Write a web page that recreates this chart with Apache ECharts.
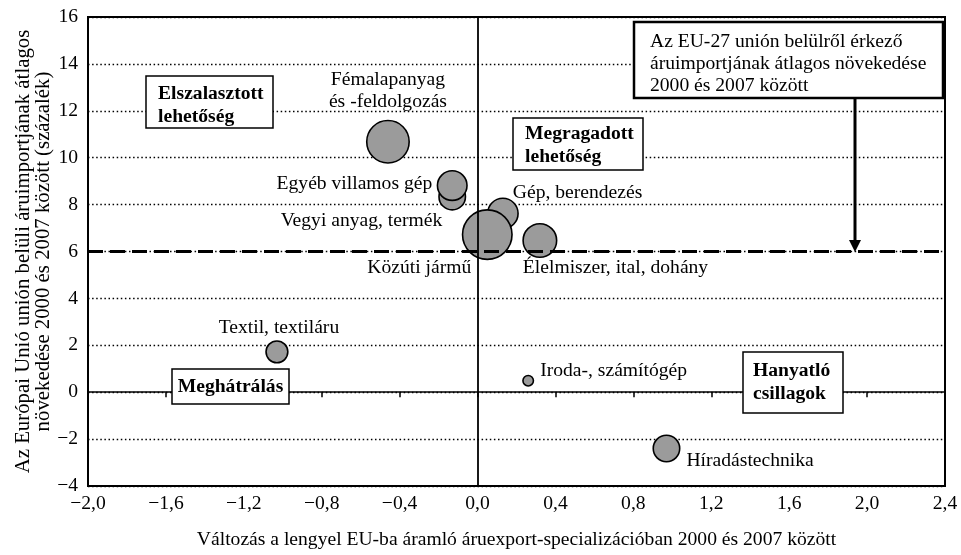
<!DOCTYPE html>
<html>
<head>
<meta charset="utf-8">
<script src="https://cdn.jsdelivr.net/npm/echarts@6/dist/echarts.min.js"></script>
<style>
  html, body { margin: 0; padding: 0; background: #fff; }
  #chart { width: 961px; height: 555px; }
</style>
</head>
<body>
<div id="chart"></div>
<script>
(function () {
  // ágazatok (a rajzolási sorrend számít: a későbbi kerül felülre)
  var sectors = [
    'Fémalapanyag\nés -feldolgozás',
    'Vegyi anyag, termék',
    'Egyéb villamos gép',
    'Gép, berendezés',
    'Közúti jármű',
    'Élelmiszer, ital, dohány',
    'Textil, textiláru',
    'Iroda-, számítógép',
    'Híradástechnika'
  ];
  var specChange = [-0.46, -0.13, -0.13, 0.13, 0.05, 0.32, -1.03, 0.26, 0.97];
  var importGrowth = [10.68, 8.34, 8.81, 7.62, 6.72, 6.47, 1.72, 0.49, -2.40];
  var bubbleWeight = [72, 28, 35, 37, 98, 45, 19, 4.4, 28];
  var euAverage = 6;

  var xTicks = { min: -2.0, max: 2.4, interval: 0.4 };
  var yTicks = { min: -4, max: 16, interval: 2 };

  var FONT = 'Liberation Serif';
  var FS = 19.6;

  // címkék helye a buborékhoz képest
  var labelPlace = {
    'Fémalapanyag\nés -feldolgozás': { align: 'center', dx: 0, dy: -51 },
    'Vegyi anyag, termék': { align: 'right', dx: -10, dy: 24 },
    'Egyéb villamos gép': { align: 'right', dx: -20, dy: -2 },
    'Gép, berendezés': { align: 'left', dx: 10, dy: -21 },
    'Közúti jármű': { align: 'right', dx: -16, dy: 33 },
    'Élelmiszer, ital, dohány': { align: 'left', dx: -17, dy: 27 },
    'Textil, textiláru': { align: 'center', dx: 2, dy: -24 },
    'Iroda-, számítógép': { align: 'left', dx: 12, dy: -10 },
    'Híradástechnika': { align: 'left', dx: 20, dy: 12 }
  };

  var bubbles = sectors.map(function (name, i) {
    var lp = labelPlace[name];
    return {
      name: name,
      value: [specChange[i], importGrowth[i], bubbleWeight[i]],
      label: {
        show: true,
        position: 'inside',
        align: lp.align,
        verticalAlign: 'middle',
        offset: [lp.dx, lp.dy],
        formatter: '{b}',
        color: '#000',
        fontFamily: FONT,
        fontSize: FS,
        lineHeight: 22
      }
    };
  });

  function minus(s) { return s.replace('-', '\u2212'); }

  var chart = echarts.init(document.getElementById('chart'));

  function box(x, y, w, h, lw) {
    return {
      type: 'rect', z: 100,
      shape: { x: x, y: y, width: w, height: h },
      style: { fill: '#fff', stroke: '#000', lineWidth: lw || 1.5 }
    };
  }
  function txt(x, y, text, bold, align) {
    return {
      type: 'text', z: 101,
      style: {
        x: x, y: y, text: text,
        fill: '#000',
        font: (bold ? 'bold ' : '') + FS + 'px "' + FONT + '"',
        lineHeight: 23,
        align: align || 'left',
        verticalAlign: 'middle'
      }
    };
  }

  var option = {
    animation: false,
    backgroundColor: '#fff',
    grid: {
      left: 88, right: 16, top: 17, bottom: 69,
      outerBoundsMode: 'none',
      show: true, borderColor: '#000', borderWidth: 2,
      backgroundColor: 'transparent'
    },
    xAxis: [
      {
        type: 'value',
        min: xTicks.min, max: xTicks.max, interval: xTicks.interval,
        position: 'bottom',
        axisLine: { show: false, onZero: false },
        axisTick: { show: false },
        splitLine: { show: false },
        axisLabel: {
          color: '#000', fontFamily: FONT, fontSize: FS, margin: 8,
          formatter: function (v) { return minus(v.toFixed(1).replace('.', ',')); }
        },
        name: 'Változás a lengyel EU-ba áramló áruexport-specializációban 2000 és 2007 között',
        nameLocation: 'middle',
        nameGap: 44,
        nameTextStyle: { color: '#000', fontFamily: FONT, fontSize: FS }
      },
      {
        // a nulla vonala, lefelé mutató osztásokkal
        type: 'value',
        min: xTicks.min, max: xTicks.max, interval: xTicks.interval,
        position: 'bottom',
        axisLine: { show: true, onZero: true, lineStyle: { color: '#000', width: 1.5 } },
        axisTick: { show: true, length: 5, lineStyle: { color: '#000', width: 1.5 } },
        axisLabel: { show: false },
        splitLine: { show: false }
      }
    ],
    yAxis: {
      type: 'value',
      min: yTicks.min, max: yTicks.max, interval: yTicks.interval,
      axisLine: { show: false, onZero: false },
      axisTick: { show: false },
      axisLabel: {
        color: '#000', fontFamily: FONT, fontSize: FS, margin: 10,
        formatter: function (v) { return minus(String(v)); }
      },
      splitLine: { show: true, lineStyle: { color: '#000', width: 1.3, type: [1.5, 2.6] } },
      name: 'Az Európai Unió unión belüli áruimportjának átlagos\nnövekedése 2000 és 2007 között (százalék)',
      nameLocation: 'middle',
      nameRotate: 90,
      nameGap: 34,
      nameMoveOverlap: false,
      nameTextStyle: { color: '#000', fontFamily: FONT, fontSize: 20.8, lineHeight: 20 }
    },
    series: [
      {
        // függőleges vonal x = 0-nál, a buborékok alatt
        type: 'scatter', data: [], z: 1, silent: true,
        markLine: {
          silent: true, symbol: 'none', animation: false,
          label: { show: false },
          lineStyle: { color: '#000', width: 1.8, type: 'solid' },
          data: [{ xAxis: 0 }]
        }
      },
      {
        name: 'ágazatok',
        type: 'scatter',
        z: 2,
        data: bubbles,
        symbol: 'circle',
        symbolSize: function (val) { return Math.sqrt(val[2]) * 5; },
        itemStyle: { color: '#9b9b9b', borderColor: '#000', borderWidth: 1.6, opacity: 1 }
      },
      {
        // EU-27 átlag, szaggatott vonal a buborékok felett
        type: 'scatter', data: [], z: 3, silent: true,
        markLine: {
          silent: true, symbol: 'none', animation: false,
          label: { show: false },
          lineStyle: { color: '#000', width: 3, type: [15, 7] },
          data: [{ yAxis: euAverage }]
        }
      }
    ],
    graphic: [
      box(146, 76, 127, 52),
      txt(158, 105, 'Elszalasztott\nlehetőség', true),
      box(513, 118, 130, 52),
      txt(525, 145, 'Megragadott\nlehetőség', true),
      box(172, 369, 117, 35),
      txt(230.5, 387, 'Meghátrálás', true, 'center'),
      box(743, 352, 100, 61),
      txt(753, 382, 'Hanyatló\ncsillagok', true),
      box(634, 22, 309, 76, 2.5),
      {
        type: 'text', z: 101,
        style: {
          x: 650, y: 64,
          text: 'Az EU-27 unión belülről érkező\náruimportjának átlagos növekedése\n2000 és 2007 között',
          fill: '#000', font: FS + 'px "' + FONT + '"', lineHeight: 22,
          align: 'left', verticalAlign: 'middle'
        }
      },
      {
        type: 'line', z: 100,
        shape: { x1: 855, y1: 98, x2: 855, y2: 242 },
        style: { stroke: '#000', lineWidth: 3 }
      },
      {
        type: 'polygon', z: 100,
        shape: { points: [[849, 240], [861, 240], [855, 252]] },
        style: { fill: '#000' }
      }
    ]
  };

  chart.setOption(option);
  window.addEventListener('resize', function () { chart.resize(); });
})();
</script>
</body>
</html>
